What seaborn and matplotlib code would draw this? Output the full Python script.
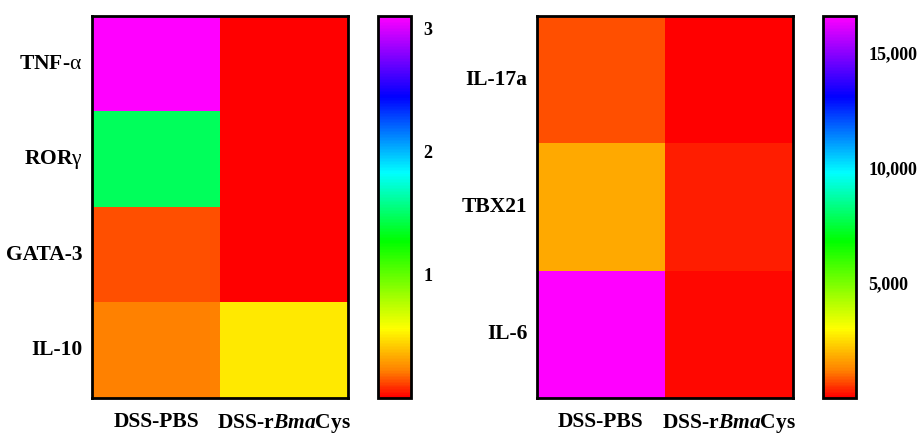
import numpy as np
import pandas as pd
import matplotlib
matplotlib.use("Agg")
import matplotlib.pyplot as plt
import seaborn as sns
from matplotlib.colors import LinearSegmentedColormap
from matplotlib.ticker import FuncFormatter

# données
groups = ["DSS-PBS", "DSS-r$\\mathbfit{Bma}$Cys"]
genes_left = ["TNF-$\\mathrm{α}$", "ROR$\\mathrm{γ}$", "GATA-3", "IL-10"]
pbs_left = [3.1, 1.47, 0.14, 0.22]
bma_left = [0.01, 0.01, 0.01, 0.50]
genes_right = ["IL-17a", "TBX21", "IL-6"]
pbs_right = [730, 1760, 16600]
bma_right = [40, 290, 90]

sns.set_style("white")
plt.rcParams['font.family'] = ['Liberation Serif', 'DejaVu Serif']
plt.rcParams['font.weight'] = 'bold'
plt.rcParams['text.color'] = 'black'
plt.rcParams['xtick.color'] = 'black'
plt.rcParams['ytick.color'] = 'black'
plt.rcParams['mathtext.fontset'] = 'custom'
plt.rcParams['mathtext.rm'] = 'Liberation Serif:regular'
plt.rcParams['mathtext.bf'] = 'Liberation Serif:bold'
plt.rcParams['mathtext.bfit'] = 'Liberation Serif:bold:italic'
plt.rcParams['mathtext.it'] = 'Liberation Serif:italic'

# palette arc-en-ciel façon Prism
rainbow = LinearSegmentedColormap.from_list("prism_rainbow", [
    (0.0, "#ff0000"), (0.07, "#ff8000"), (0.18, "#ffff00"),
    (0.41, "#00ff00"), (0.59, "#00ffff"), (0.79, "#0000ff"),
    (1.0, "#ff00ff")])

df_left = pd.DataFrame({groups[0]: pbs_left, groups[1]: bma_left}, index=genes_left)
df_right = pd.DataFrame({groups[0]: pbs_right, groups[1]: bma_right}, index=genes_right)

fig = plt.figure(figsize=(9.22, 4.33), dpi=100)
ax1 = fig.add_axes([0.0998, 0.081, 0.2777, 0.882])
cax1 = fig.add_axes([0.41, 0.081, 0.0358, 0.882])
ax2 = fig.add_axes([0.5824, 0.081, 0.2777, 0.882])
cax2 = fig.add_axes([0.8926, 0.081, 0.0358, 0.882])

panels = [(ax1, cax1, df_left, [1, 2, 3], "{:g}"),
          (ax2, cax2, df_right, [5000, 10000, 15000], "{:,.0f}")]

for ax, cax, df, ticks, fmt in panels:
    sns.heatmap(df, ax=ax, cbar_ax=cax, cmap=rainbow, vmin=0,
                vmax=df.values.max(), linewidths=0)
    ax.tick_params(axis="y", length=0, pad=7)
    ax.tick_params(axis="x", length=0, pad=10)
    ax.set_yticklabels(df.index, rotation=0, fontsize=15.5, fontweight="bold")
    ax.set_xticklabels(df.columns, rotation=0, fontsize=15.5, fontweight="bold")
    for s in ax.spines.values():
        s.set_visible(True)
        s.set_linewidth(2)
        s.set_color("black")
    cb = ax.collections[0].colorbar
    cb.outline.set_linewidth(2)
    cb.outline.set_edgecolor("black")
    cb.set_ticks(ticks)
    cax.yaxis.set_major_formatter(FuncFormatter(lambda v, p, f=fmt: f.format(v)))
    cax.tick_params(axis="y", direction="in", length=4, width=1.5, left=True,
                    right=True, labelsize=13, pad=9)
    for lab in cax.get_yticklabels():
        lab.set_fontweight("bold")

plt.savefig("out.png", dpi=100)
